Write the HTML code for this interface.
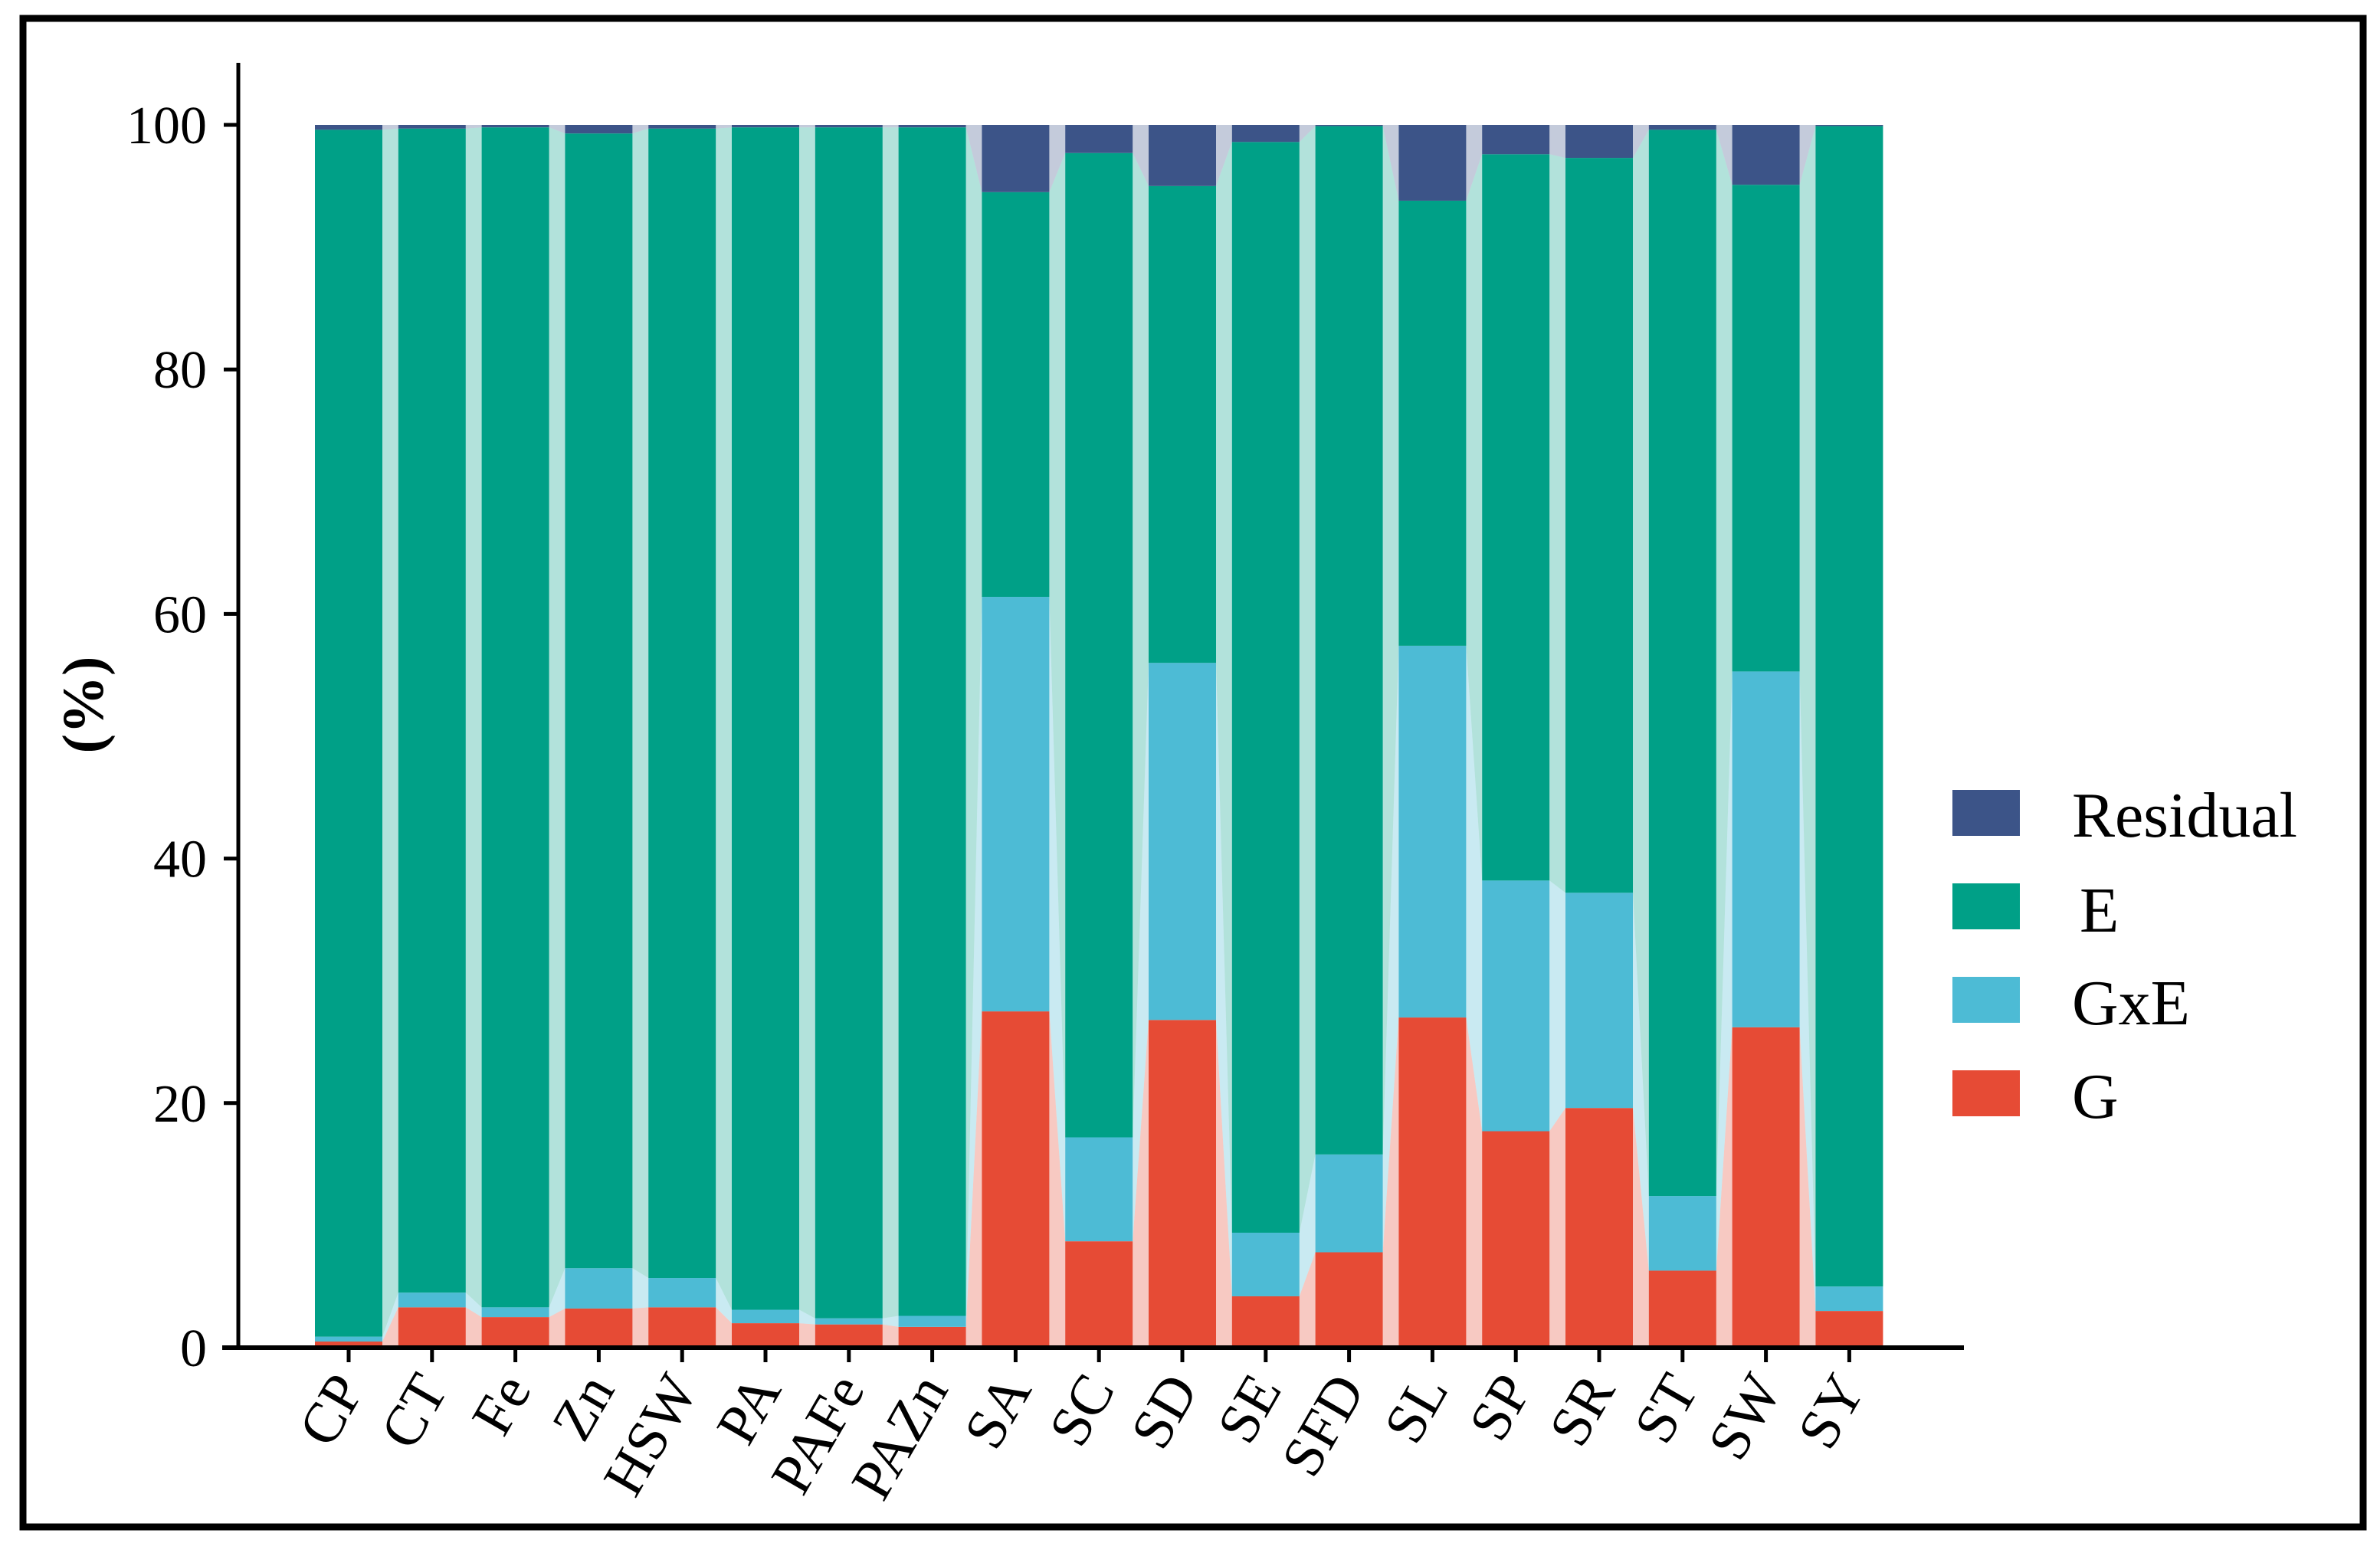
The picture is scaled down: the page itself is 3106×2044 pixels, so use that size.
<!DOCTYPE html>
<html><head><meta charset="utf-8"><style>
html,body{margin:0;padding:0;background:#fff}
svg{display:block;font-family:"Liberation Serif",serif}
</style></head><body>
<svg id="chart" width="3106" height="2044" viewBox="0 0 3106 2044">
<rect x="30" y="24" width="3054" height="1969" fill="#fff" stroke="#000" stroke-width="9"/>
<g id="plot"></g>
<g id="axes"></g>
<text transform="translate(134,920) rotate(-90)" text-anchor="middle" font-size="76" font-weight="bold">(%)</text>
<g id="legend">
 <rect x="2548" y="1031" width="88" height="60" fill="#3C5488"/>
 <text x="2704" y="1092" font-size="84">Residual</text>
 <rect x="2548" y="1153" width="88" height="60" fill="#00A087"/>
 <text x="2714" y="1216" font-size="84">E</text>
 <rect x="2548" y="1275" width="88" height="60" fill="#4DBBD5"/>
 <text x="2704" y="1337" font-size="84">GxE</text>
 <rect x="2548" y="1397" width="88" height="60" fill="#E64B35"/>
 <text x="2704" y="1459" font-size="84">G</text>
</g>
</svg>
<script>
const categories=["CP","CT","Fe","Zn","HSW","PA","PAFe","PAZn","SA","SC","SD","SE","SFD","SL","SP","SR","ST","SW","SY"];
const gValues=[0.5,3.3,2.5,3.2,3.3,2.0,1.9,1.7,27.5,8.7,26.8,4.2,7.8,27.0,17.7,19.6,6.3,26.2,3.0];
const gxeValues=[0.4,1.2,0.8,3.3,2.4,1.1,0.5,0.9,33.9,8.5,29.2,5.2,8.0,30.4,20.5,17.6,6.1,29.1,2.0];
const residualValues=[0.4,0.3,0.2,0.7,0.3,0.2,0.2,0.2,5.5,2.3,5.0,1.4,0.1,6.2,2.4,2.7,0.4,4.9,0.1];
const yTicks=[0,20,40,60,80,100];
const ns="http://www.w3.org/2000/svg";
const X0=455,STEP=108.8,BW=88,Y0=1759,Y100=163;
function xc(i){return X0+i*STEP;}
function y(v){return Y0-(v/100)*(Y0-Y100);}
const plot=document.getElementById('plot'),axes=document.getElementById('axes');
function mk(tag,attrs,parent){const e=document.createElementNS(ns,tag);for(const k in attrs)e.setAttribute(k,attrs[k]);parent.appendChild(e);return e;}
const colors=["#E64B35","#4DBBD5","#00A087","#3C5488"];
const names=["g","gxe","e","residual"];
function stacks(i){const g=gValues[i],gx=gxeValues[i],r=residualValues[i];return [[0,g],[g,g+gx],[g+gx,100-r],[100-r,100]];}
for(let i=0;i<categories.length-1;i++){
 const a=stacks(i),b=stacks(i+1);const x1=xc(i)+BW/2,x2=xc(i+1)-BW/2;
 for(let k=0;k<4;k++){
  const p=mk('polygon',{points:`${x1},${y(a[k][0])} ${x1},${y(a[k][1])} ${x2},${y(b[k][1])} ${x2},${y(b[k][0])}`,fill:colors[k],'fill-opacity':0.3},plot);
  
  
 }
}
for(let i=0;i<categories.length;i++){
 const s=stacks(i);
 for(let k=0;k<4;k++){
  const r=mk('rect',{x:xc(i)-BW/2,y:y(s[k][1]),width:BW,height:Math.max(0,y(s[k][0])-y(s[k][1])),fill:colors[k]},plot);
  
  
 }
}
const ya=mk('line',{x1:311,y1:82,x2:311,y2:Y0+3,stroke:'#000','stroke-width':5},axes);


const xa=mk('line',{x1:290,y1:Y0,x2:2563,y2:Y0,stroke:'#000','stroke-width':6},axes);


yTicks.forEach(t=>{
 const l=mk('line',{x1:292,y1:y(t),x2:311,y2:y(t),stroke:'#000','stroke-width':5},axes);
 
 
 const tx=mk('text',{x:270,y:y(t)+24,'text-anchor':'end','font-size':70},axes);
 tx.textContent=t;
 
 
});
categories.forEach((c,i)=>{
 const l=mk('line',{x1:xc(i),y1:Y0,x2:xc(i),y2:Y0+19,stroke:'#000','stroke-width':5},axes);
 
 
 const tx=mk('text',{transform:`translate(${xc(i)+22},${Y0+54}) rotate(-60)`,'text-anchor':'end','font-size':75},axes);
 tx.textContent=c;
 
 
});
</script>
</body></html>
